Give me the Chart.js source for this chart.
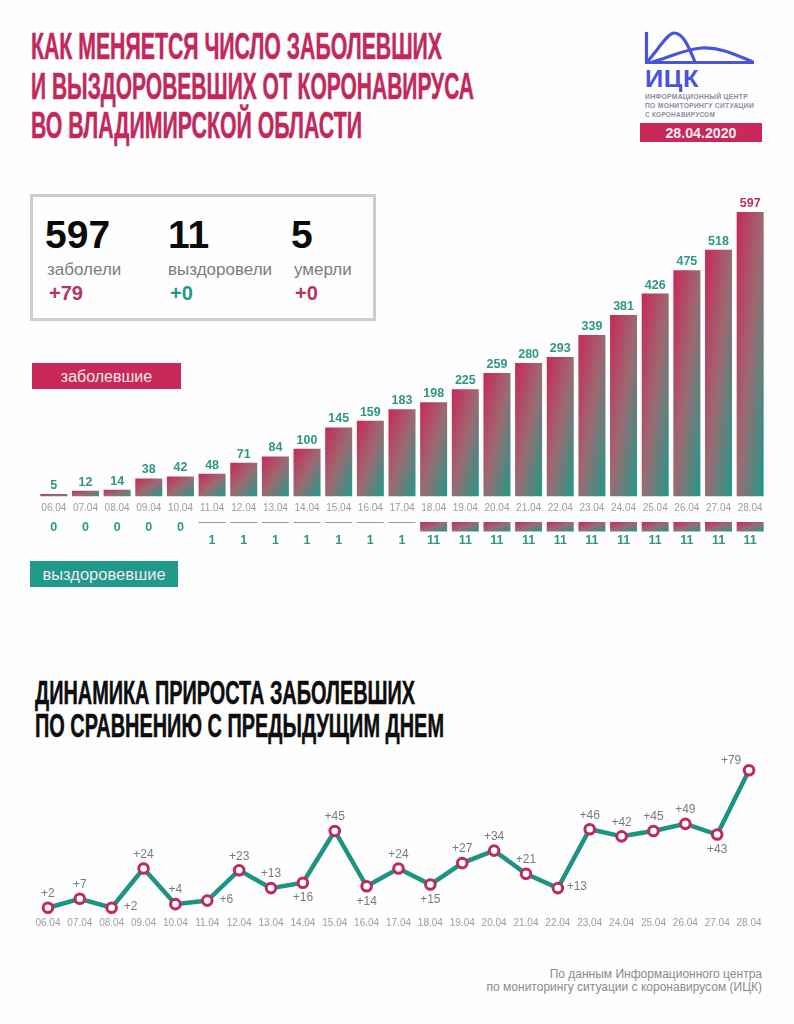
<!DOCTYPE html>
<html lang="ru"><head><meta charset="utf-8">
<script src="https://cdn.jsdelivr.net/npm/chart.js@4"></script>
<style>
html,body{margin:0;padding:0;background:#fefefe}
#page{position:relative;width:794px;height:1024px;overflow:hidden;font-family:"Liberation Sans",Arial,sans-serif}
#page>*{position:absolute}
canvas{display:block}
.t{white-space:nowrap;line-height:1;transform-origin:0 0}
.hd{font-family:"Liberation Sans Narrow","Liberation Sans",sans-serif;font-weight:700;-webkit-text-stroke:.5px currentColor}
.num{font-size:39px;font-weight:700;color:#0a0a0a}
.lab{font-size:17px;color:#7c7c7c}
.inc{font-size:20px;font-weight:700}
.tag{color:#f4e8ec;text-align:center}
.sm{font-size:7.6px;letter-spacing:.3px;color:#8b8ba6;font-weight:700}
</style></head><body>
<div id="page">
  <div class="t hd" data-w="411" style="left:31px;top:29px;font-size:36px;color:#c2285c">КАК МЕНЯЕТСЯ ЧИСЛО ЗАБОЛЕВШИХ</div>
  <div class="t hd" data-w="443" style="left:31px;top:68.5px;font-size:36px;color:#c2285c">И ВЫЗДОРОВЕВШИХ ОТ КОРОНАВИРУСА</div>
  <div class="t hd" data-w="331" style="left:31px;top:108px;font-size:36px;color:#c2285c">ВО ВЛАДИМИРСКОЙ ОБЛАСТИ</div>

  <svg style="left:640px;top:25px" width="125" height="45" viewBox="640 25 125 45" fill="none" stroke="#4a54d9" stroke-width="3.2">
    <path d="M646.5 32V64M645 62.5H754"/>
    <path d="M648 61C660 47 668 33 674 33C684 33 690 50 695 62"/>
    <path d="M652 62C670 57 685 49 702 48C722 47 738 56 753 62"/>
  </svg>
  <div class="t" style="left:644.5px;top:68px;font-size:23px;font-weight:700;color:#4a54d9;letter-spacing:.5px" data-w="54">ИЦК</div>
  <div class="t sm" data-w="103" style="left:645px;top:93px">ИНФОРМАЦИОННЫЙ ЦЕНТР</div>
  <div class="t sm" data-w="109" style="left:645px;top:102px">ПО МОНИТОРИНГУ СИТУАЦИИ</div>
  <div class="t sm" data-w="70" style="left:645px;top:110.5px">С КОРОНАВИРУСОМ</div>
  <div style="left:640px;top:123px;width:122px;height:19px;background:#c8285a"></div>
  <div class="t" style="left:640px;top:125.5px;width:122px;text-align:center;font-size:14.2px;font-weight:700;color:#f8eef1">28.04.2020</div>

  <div style="left:30px;top:194px;width:340px;height:121px;border:3px solid #cdcdcd"></div>
  <div class="t num" style="left:45px;top:215px">597</div>
  <div class="t lab" style="left:47px;top:261px">заболели</div>
  <div class="t inc" style="left:49px;top:283px;color:#b9325f">+79</div>
  <div class="t num" style="left:168px;top:215px">11</div>
  <div class="t lab" style="left:168px;top:261px">выздоровели</div>
  <div class="t inc" style="left:170px;top:283px;color:#1f9a8a">+0</div>
  <div class="t num" style="left:291px;top:215px">5</div>
  <div class="t lab" style="left:294px;top:261px">умерли</div>
  <div class="t inc" style="left:295px;top:283px;color:#b9325f">+0</div>

  <div class="t tag" style="left:32px;top:363px;width:149px;height:26px;line-height:27px;background:#c8285a;font-size:16px">заболевшие</div>
  <div class="t tag" style="left:30px;top:561px;width:148px;height:26px;line-height:27px;background:#1f9a8a;font-size:16.5px">выздоровевшие</div>

  <canvas id="cases" width="728" height="337" style="left:37.7px;top:180px"></canvas>
  <canvas id="recovered" width="728" height="60" style="left:37.7px;top:515px"></canvas>

  <div class="t hd" data-w="380" style="left:35px;top:676px;font-size:33px;color:#0d0d0d">ДИНАМИКА ПРИРОСТА ЗАБОЛЕВШИХ</div>
  <div class="t hd" data-w="409" style="left:35px;top:709px;font-size:33px;color:#0d0d0d">ПО СРАВНЕНИЮ С ПРЕДЫДУЩИМ ДНЕМ</div>

  <canvas id="growth" width="733" height="192" style="left:32.4px;top:740px"></canvas>

  <div class="t" style="right:32px;top:968px;font-size:12px;color:#8a8a8a;text-align:right;line-height:13px">По данным Информационного центра<br>по мониторингу ситуации с коронавирусом (ИЦК)</div>
</div>
<script>
const dates = ["06.04","07.04","08.04","09.04","10.04","11.04","12.04","13.04","14.04","15.04","16.04","17.04","18.04","19.04","20.04","21.04","22.04","23.04","24.04","25.04","26.04","27.04","28.04"];
const casesValues = [5,12,14,38,42,48,71,84,100,145,159,183,198,225,259,280,293,339,381,426,475,518,597];
const recoveredValues = [0,0,0,0,0,1,1,1,1,1,1,1,11,11,11,11,11,11,11,11,11,11,11];
const growthValues = [2,7,2,24,4,6,23,13,16,45,14,24,15,27,34,21,13,46,42,45,49,43,79];
const growthLabelSides = ["t","t","r","t","t","r","t","t","b","t","b","t","b","t","t","t","r","t","t","t","t","b","l"];

const PINK="#c8285a", MID="#9c6a72", TEAL="#1f9a8a", GREY="#9c9c9c", BAR_SHARE=.853;
Chart.defaults.font.family='"Liberation Sans",Arial,sans-serif';

// diagonal gradient whose midline runs through the other two corners of the bar
function barGradient(ctx){
  if(ctx.type!=='data') return PINK;
  const xs=ctx.chart.scales.x, ys=ctx.chart.scales.y;
  if(!xs||!ys) return PINK;
  const w=xs.width/dates.length*BAR_SHARE;
  const top=ys.getPixelForValue(ctx.raw), bot=ys.getPixelForValue(0);
  const h=Math.max(Math.abs(bot-top),.5), cx=xs.getPixelForValue(ctx.dataIndex), cy=(top+bot)/2;
  const n=Math.hypot(w,h), L=w*h/n, dx=h/n, dy=w/n;
  const pts=[cx-dx*L,cy-dy*L,cx+dx*L,cy+dy*L];
  if(!pts.every(Number.isFinite)) return PINK;
  const g=ctx.chart.ctx.createLinearGradient(...pts);
  g.addColorStop(0,PINK);g.addColorStop(.5,MID);g.addColorStop(1,TEAL);return g;
}
const fitX=s=>{s.height=20;s.paddingLeft=0;s.paddingRight=0};
const xAxis={type:'category',offset:true,afterFit:fitX,border:{display:false},
  grid:{display:false,drawTicks:false},
  ticks:{color:GREY,padding:6,maxRotation:0,autoSkip:false,font:{size:10}}};
const base={responsive:false,animation:false,devicePixelRatio:1,
  plugins:{legend:{display:false},tooltip:{enabled:false}}};
const labelPlugin=draw=>({id:'valueLabels',afterDatasetsDraw(chart){
  const c=chart.ctx;c.save();c.textAlign='center';
  chart.getDatasetMeta(0).data.forEach((el,i)=>draw(c,el,i,chart));c.restore();}});

new Chart(document.getElementById('cases'),{type:'bar',
  data:{labels:dates,datasets:[{data:casesValues,backgroundColor:barGradient,barPercentage:BAR_SHARE,categoryPercentage:1}]},
  options:{...base,layout:{padding:{top:30.6,bottom:.5}},
    scales:{x:xAxis,y:{display:false,min:0,max:600}}},
  plugins:[labelPlugin((c,el,i)=>{
    c.font='bold 12.5px "Liberation Sans"';c.textBaseline='alphabetic';
    c.fillStyle=i===casesValues.length-1?'#b9325f':'#2f9585';
    c.fillText(casesValues[i],el.x,el.y-5);})]});

new Chart(document.getElementById('recovered'),{type:'bar',
  data:{labels:dates,datasets:[{data:recoveredValues,backgroundColor:barGradient,barPercentage:BAR_SHARE,categoryPercentage:1}]},
  options:{...base,layout:{padding:{top:7,bottom:1.2}},
    scales:{x:{display:false,offset:true},y:{display:false,reverse:true,min:0,max:60}}},
  plugins:[labelPlugin((c,el,i)=>{
    c.font='bold 12.5px "Liberation Sans"';c.textBaseline='middle';c.fillStyle='#2f9585';
    c.fillText(recoveredValues[i],el.x,el.base+(recoveredValues[i]>0?19:6));})]});

const offsets={t:[0,-14],b:[0,15],r:[19,-1],l:[-18,-10]};
new Chart(document.getElementById('growth'),{type:'line',
  data:{labels:dates,datasets:[{data:growthValues,borderColor:'#1e9383',borderWidth:4.5,tension:0,clip:false,
    pointRadius:4.8,pointBorderWidth:3,pointBackgroundColor:'#fff',pointBorderColor:'#bd2a5b'}]},
  options:{...base,layout:{autoPadding:false,padding:{top:28.5,bottom:.7}},
    scales:{x:xAxis,y:{display:false,min:0,max:80}}},
  plugins:[labelPlugin((c,el,i)=>{
    c.font='12px "Liberation Sans"';c.textBaseline='middle';c.fillStyle='#7a7a7a';
    const o=offsets[growthLabelSides[i]];
    c.fillText('+'+growthValues[i],el.x+o[0],el.y+o[1]);})]});

// squeeze headline text to the reference line widths
document.querySelectorAll('[data-w]').forEach(e=>{
  const w=e.getBoundingClientRect().width;
  e.style.transform='scaleX('+(+e.dataset.w/w)+')';
});
</script>
</body></html>
